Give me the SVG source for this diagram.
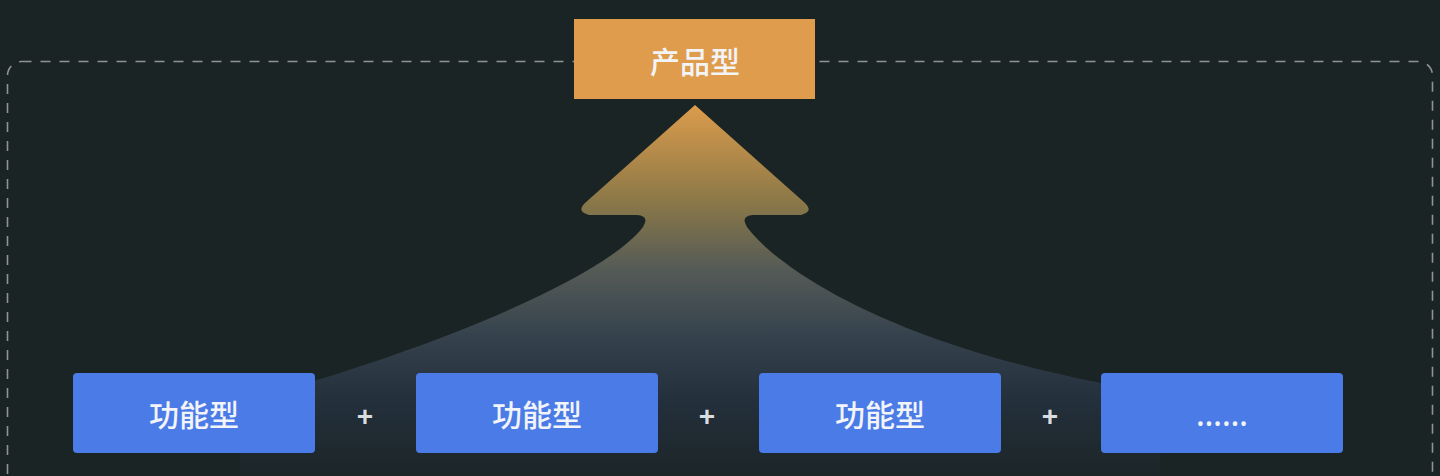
<svg xmlns="http://www.w3.org/2000/svg" width="1440" height="476" viewBox="0 0 1440 476">
  <defs>
    <linearGradient id="flow" x1="0" y1="105" x2="0" y2="476" gradientUnits="userSpaceOnUse">
      <stop offset="0" stop-color="#dc9c4c"/>
      <stop offset="0.26" stop-color="#8b7848"/>
      <stop offset="0.44" stop-color="#555b56"/>
      <stop offset="0.63" stop-color="#34414d"/>
      <stop offset="0.8" stop-color="#232f3b"/>
      <stop offset="1" stop-color="#1c2628"/>
    </linearGradient>
    <style>
      .frame { fill: none; stroke: #8e9393; stroke-width: 1.6; stroke-dasharray: 10 9; }
      .func rect { fill: #4a7be7; }
      .lbl { font-family: "Noto Sans CJK SC", "Noto Sans", sans-serif; font-size: 30px; font-weight: 500; fill: #f2f4f8; text-anchor: middle; dominant-baseline: central; }
      .plus { font-family: "Liberation Sans", sans-serif; font-size: 28px; font-weight: bold; fill: #d9dde0; text-anchor: middle; }
    </style>
  </defs>
  <rect width="1440" height="476" fill="#1b2424"/>
  <rect class="frame" x="7.5" y="61.5" width="1425" height="460" rx="14"/>
  <g id="connectors">
    <path d="M 695 105 L 585 203 Q 576 212 589 215 L 637 215 Q 650 216 643 227 C 610 270 480 330 317 380 L 240 405 L 240 476 L 1160 476 L 1160 400 L 1101 383 C 880 340 775 265 747 227 Q 740 216 753 215 L 801 215 Q 814 212 805 203 Z" fill="url(#flow)"/>
    <text class="plus" x="365" y="426">+</text>
    <text class="plus" x="707" y="426">+</text>
    <text class="plus" x="1050" y="426">+</text>
  </g>
  <g id="product">
    <rect x="574" y="19" width="241" height="80" fill="#df9c4d"/>
    <text class="lbl" x="695" y="60" fill="#f8f0e4">产品型</text>
  </g>
  <g id="func1" class="func">
    <rect x="73" y="373" width="242" height="80" rx="4"/>
    <text class="lbl" x="194" y="413">功能型</text>
  </g>
  <g id="func2" class="func">
    <rect x="416" y="373" width="242" height="80" rx="4"/>
    <text class="lbl" x="537" y="413">功能型</text>
  </g>
  <g id="func3" class="func">
    <rect x="759" y="373" width="242" height="80" rx="4"/>
    <text class="lbl" x="880" y="413">功能型</text>
  </g>
  <g id="more" class="func">
    <rect x="1101" y="373" width="242" height="80" rx="4"/>
    <text x="1222" y="426" style="font-family: 'Noto Sans', sans-serif; font-size: 32px; font-weight: 500; fill: #f2f4f8; text-anchor: middle;">……</text>
  </g>
</svg>
